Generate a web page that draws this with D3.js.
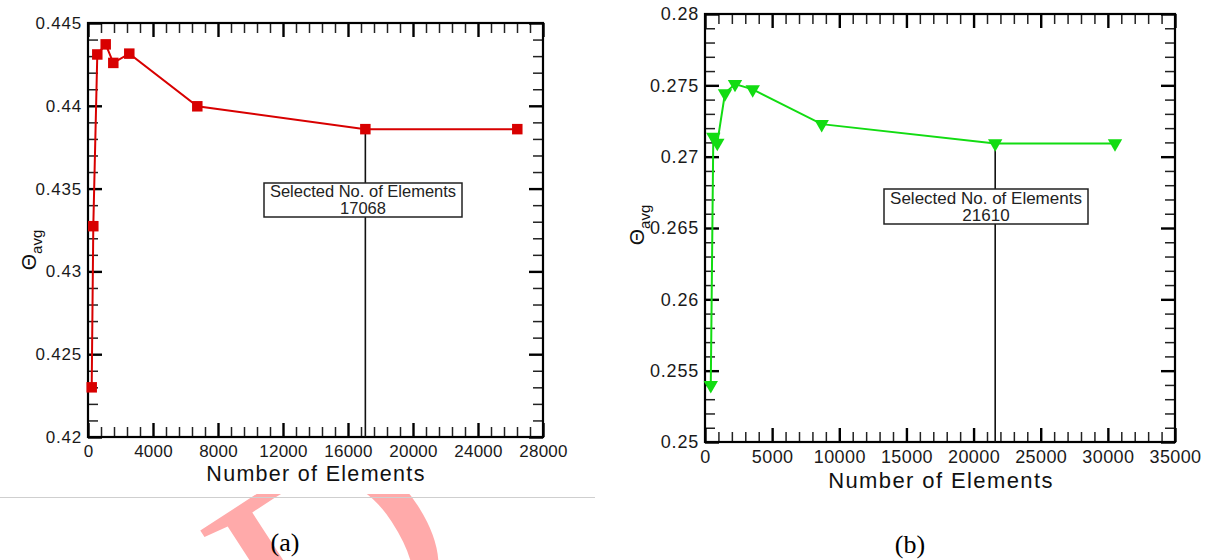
<!DOCTYPE html>
<html>
<head>
<meta charset="utf-8">
<script src="https://cdn.jsdelivr.net/npm/d3@7"></script>
<style>
  html, body { margin: 0; padding: 0; background: #fff; }
  svg { display: block; font-family: "Liberation Sans", Arial, sans-serif; }
</style>
</head>
<body>
<svg id="fig" width="1208" height="560"></svg>
<script>
// ---- data: panel (a), red squares ----
const elemsA = [228, 326, 572, 1089, 1557, 2541, 6726, 17068, 26418];
const thetaA = [0.4230, 0.43273, 0.4431, 0.44371, 0.44259, 0.44315, 0.43997, 0.43859, 0.43859];
const selectedA = 17068;
const xTicksA = [0, 4000, 8000, 12000, 16000, 20000, 24000, 28000];
const yTicksA = [0.42, 0.425, 0.43, 0.435, 0.44, 0.445];

// ---- data: panel (b), green triangles ----
const elemsB = [430, 618, 916, 1489, 2234, 3552, 8690, 21610, 30532];
const thetaB = [0.25398, 0.27139, 0.27097, 0.27444, 0.27509, 0.27472, 0.27228, 0.27093, 0.27093];
const selectedB = 21610;
const xTicksB = [0, 5000, 10000, 15000, 20000, 25000, 30000, 35000];
const yTicksB = [0.25, 0.255, 0.26, 0.265, 0.27, 0.275, 0.28];

const xTitle = 'Number of Elements';
const boxTitle = 'Selected No. of Elements';

const svg = d3.select('#fig');

// watermark sits behind both figure images; only the part below (a) shows
svg.append('defs').append('clipPath').attr('id', 'wmclip')
  .append('rect').attr('x', 0).attr('y', 0).attr('width', 440).attr('height', 560);
const wm = svg.append('g').attr('class', 'watermark').attr('clip-path', 'url(#wmclip)');
wm.append('text')
  .attr('transform', 'translate(300,700) rotate(-33)')
  .style('font-family', '"Liberation Serif", "Times New Roman", serif')
  .style('font-size', '300px')
  .style('fill', '#ffaaaa')
  .text('DR');

// white image backgrounds
svg.append('rect').attr('x', 0).attr('y', 0).attr('width', 553).attr('height', 494).attr('fill', '#fff');
svg.append('rect').attr('x', 612).attr('y', 0).attr('width', 596).attr('height', 505).attr('fill', '#fff');

svg.append('line')
  .attr('x1', 0).attr('x2', 595).attr('y1', 497.5).attr('y2', 497.5)
  .attr('stroke', '#cfcfcf').attr('stroke-width', 1);

function minorValues(ticks, n) {
  const out = [];
  for (let i = 0; i < ticks.length - 1; i++) {
    const step = (ticks[i + 1] - ticks[i]) / n;
    for (let k = 1; k < n; k++) out.push(ticks[i] + k * step);
  }
  return out;
}

function styleAxis(sel, fontSize, spacing) {
  sel.select('.domain').remove();
  sel.attr('font-family', null).attr('font-size', null);
  sel.selectAll('line').attr('stroke', '#000');
  sel.selectAll('text')
    .style('font-size', fontSize + 'px')
    .style('letter-spacing', spacing + 'px')
    .attr('fill', '#1a1a1a');
}

function drawPanel(p) {
  const g = svg.append('g');
  const x = d3.scaleLinear().domain([p.xTicks[0], p.xTicks[p.xTicks.length - 1]]).range([p.left, p.right]);
  const y = d3.scaleLinear().domain([p.yTicks[0], p.yTicks[p.yTicks.length - 1]]).range([p.bottom, p.top]);
  const xMin = minorValues(p.xTicks, 5);
  const yMin = minorValues(p.yTicks, 5);

  // minor ticks, all four sides, pointing inward
  const minors = g.append('g').attr('class', 'minor');
  [[d3.axisBottom(x).tickValues(xMin), `translate(0,${p.bottom})`],
   [d3.axisTop(x).tickValues(xMin), `translate(0,${p.top})`],
   [d3.axisLeft(y).tickValues(yMin), `translate(${p.left},0)`],
   [d3.axisRight(y).tickValues(yMin), `translate(${p.right},0)`]].forEach(([ax, tr]) => {
    minors.append('g').attr('transform', tr)
      .call(ax.tickSize(-p.minorLen).tickFormat(''))
      .call(s => styleAxis(s, 10, 0))
      .selectAll('line').attr('stroke', '#222').attr('stroke-width', 1.5);
  });

  // major ticks, labelled on bottom and left
  g.append('g').attr('transform', `translate(0,${p.bottom})`)
    .call(d3.axisBottom(x).tickValues(p.xTicks).tickSize(-p.majorLen).tickPadding(p.xPad).tickFormat(d3.format('d')))
    .call(s => styleAxis(s, p.tickFont, p.xSpacing));
  g.append('g').attr('transform', `translate(${p.left},0)`)
    .call(d3.axisLeft(y).tickValues(p.yTicks).tickSize(-p.majorLen).tickPadding(p.yPad).tickFormat(d => String(+d.toFixed(3))))
    .call(s => styleAxis(s, p.tickFont, p.ySpacing));
  g.append('g').attr('transform', `translate(0,${p.top})`)
    .call(d3.axisTop(x).tickValues(p.xTicks).tickSize(-p.majorLen).tickFormat(''))
    .call(s => styleAxis(s, 10, 0));
  g.append('g').attr('transform', `translate(${p.right},0)`)
    .call(d3.axisRight(y).tickValues(p.yTicks).tickSize(-p.majorLen).tickFormat(''))
    .call(s => styleAxis(s, 10, 0));
  g.selectAll('g.tick line').filter(function () { return !this.closest('.minor'); })
    .attr('stroke-width', 2.4);

  // frame
  g.append('rect')
    .attr('x', p.left).attr('y', p.top)
    .attr('width', p.right - p.left).attr('height', p.bottom - p.top)
    .attr('fill', 'none').attr('stroke', '#000').attr('stroke-width', 2.2);

  // selected-mesh marker line and label box
  const selIdx = p.elems.indexOf(p.selected);
  g.append('line')
    .attr('x1', x(p.selected)).attr('x2', x(p.selected))
    .attr('y1', y.range()[0]).attr('y2', y(p.theta[selIdx]))
    .attr('stroke', '#111').attr('stroke-width', 1.6);

  const bx = g.append('g');
  bx.append('rect')
    .attr('x', p.box.x).attr('y', p.box.y).attr('width', p.box.w).attr('height', p.box.h)
    .attr('fill', '#fff').attr('stroke', '#222').attr('stroke-width', 1.5);
  bx.append('text')
    .attr('x', p.box.x + p.box.w / 2).attr('y', p.box.y + p.box.h * 0.42)
    .attr('text-anchor', 'middle').style('font-size', p.boxFont + 'px').attr('fill', '#222')
    .text(boxTitle);
  bx.append('text')
    .attr('x', p.box.x + p.box.w / 2).attr('y', p.box.y + p.box.h * 0.9)
    .attr('text-anchor', 'middle').style('font-size', p.boxFont + 'px').attr('fill', '#222')
    .text(String(p.selected));

  // data line + markers
  const pts = p.elems.map((e, i) => [x(e), y(p.theta[i])]);
  g.append('path')
    .attr('d', d3.line()(pts))
    .attr('fill', 'none').attr('stroke', p.color).attr('stroke-width', 2);
  g.selectAll('path.mk').data(pts).join('path')
    .attr('class', 'mk')
    .attr('transform', d => `translate(${d[0]},${d[1]})` + (p.symbol === d3.symbolTriangle ? ' rotate(180)' : ''))
    .attr('d', d3.symbol().type(p.symbol).size(p.symbolSize))
    .attr('fill', p.color);

  // axis titles
  g.append('text')
    .attr('x', p.titleX).attr('y', p.titleY)
    .attr('text-anchor', 'middle')
    .style('font-size', p.titleFont + 'px').style('letter-spacing', p.titleSpacing + 'px')
    .attr('fill', '#111')
    .text(xTitle);

  const yl = g.append('text')
    .attr('transform', `translate(${p.yLabelX},${p.yLabelY}) rotate(-90)`)
    .attr('text-anchor', 'middle')
    .attr('fill', '#111');
  yl.append('tspan').style('font-size', '21px').text('Θ');
  yl.append('tspan').style('font-size', '15px').attr('dy', 6).text('avg');

  // caption below the figure
  svg.append('text')
    .attr('x', p.capX).attr('y', p.capY)
    .attr('text-anchor', 'middle')
    .style('font-family', '"Liberation Serif", "Times New Roman", serif')
    .style('font-size', '26px')
    .attr('fill', '#000')
    .text(p.caption);
}

drawPanel({
  elems: elemsA, theta: thetaA, selected: selectedA,
  xTicks: xTicksA, yTicks: yTicksA,
  left: 88, right: 543, top: 23, bottom: 437,
  majorLen: 14, minorLen: 10,
  tickFont: 17, xSpacing: 0.2, ySpacing: 0.8, xPad: 8, yPad: 6,
  color: '#d80000', symbol: d3.symbolSquare, symbolSize: 110,
  box: { x: 264, y: 183, w: 198, h: 34 }, boxFont: 16.5,
  titleX: 316, titleY: 481, titleFont: 21.5, titleSpacing: 1.3,
  yLabelX: 36, yLabelY: 250,
  caption: '(a)', capX: 285, capY: 551
});

drawPanel({
  elems: elemsB, theta: thetaB, selected: selectedB,
  xTicks: xTicksB, yTicks: yTicksB,
  left: 705, right: 1175, top: 14, bottom: 442,
  majorLen: 14, minorLen: 10,
  tickFont: 18, xSpacing: 0.4, ySpacing: 0.8, xPad: 8, yPad: 6,
  color: '#12dc12', symbol: d3.symbolTriangle, symbolSize: 90,
  box: { x: 884, y: 189, w: 204, h: 35 }, boxFont: 17,
  titleX: 941, titleY: 488, titleFont: 22, titleSpacing: 1.4,
  yLabelX: 644, yLabelY: 225,
  caption: '(b)', capX: 910, capY: 553
});
</script>
</body>
</html>
